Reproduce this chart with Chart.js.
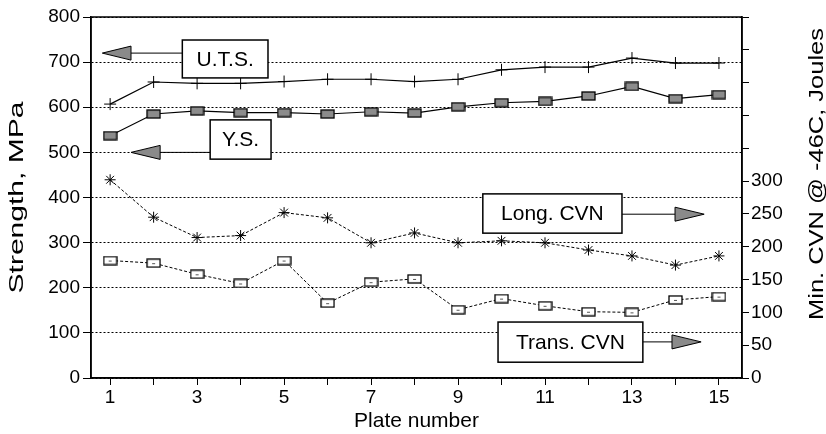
<!DOCTYPE html>
<html>
<head>
<meta charset="utf-8">
<script src="https://cdn.jsdelivr.net/npm/chart.js@4.4.1/dist/chart.umd.min.js"></script>
<style>
  body { margin: 0; background: #fff; }
</style>
</head>
<body>
<canvas id="plateChart" width="826" height="434"></canvas>
<script>
// values
const plates = [1, 2, 3, 4, 5, 6, 7, 8, 9, 10, 11, 12, 13, 14, 15];
const uts = [607, 656, 653, 653, 657, 662, 662, 657, 662, 683, 689, 689, 709, 698, 698];        // MPa
const ys = [537, 585, 592, 588, 588, 585, 590, 587, 601, 610, 613, 625, 646, 619, 628];         // MPa
const longCvn = [302, 245, 214, 217, 252, 244, 206, 221, 206, 209, 206, 195, 186, 172, 186];    // J
const transCvn = [179, 175, 158, 144, 179, 114, 146, 151, 104, 121, 110, 101, 100, 119, 124];   // J

const strengthTicks = [0, 100, 200, 300, 400, 500, 600, 700, 800];
const cvnLabelMax = 300;

// callout boxes, placed in plate / MPa units
const callouts = [
    { text: 'U.T.S.', x0: 2.66, x1: 4.63, y0: 749, y1: 665, arrowY: 720, base: 1.48, tip: 0.82 },
    { text: 'Y.S.', x0: 3.30, x1: 4.70, y0: 572, y1: 485, arrowY: 500, base: 2.15, tip: 1.48 },
    { text: 'Long. CVN', x0: 9.57, x1: 12.77, y0: 408, y1: 321, arrowY: 363, base: 13.99, tip: 14.66 },
    { text: 'Trans. CVN', x0: 9.92, x1: 13.25, y0: 124, y1: 35, arrowY: 80, base: 13.92, tip: 14.59 }
];

const FONT = '"Liberation Sans", Arial, Helvetica, sans-serif';
Chart.defaults.font.family = FONT;
Chart.defaults.color = '#000';

function boxMarker(fill, dash) {
    const c = document.createElement('canvas');
    c.width = 15;
    c.height = 10;
    const g = c.getContext('2d');
    g.fillStyle = fill;
    g.fillRect(1, 1, 13, 8);
    g.strokeStyle = '#000';
    g.lineWidth = 1.3;
    g.strokeRect(1, 1, 13, 8);
    if (dash) {
        // little tick inside the open squares
        g.strokeStyle = '#555';
        g.lineWidth = 1;
        g.beginPath();
        g.moveTo(6, 5.5);
        g.lineTo(9, 5.5);
        g.stroke();
    }
    return c;
}

const toPoints = arr => arr.map((v, i) => ({ x: plates[i], y: v }));

const calloutPlugin = {
    id: 'callouts',
    afterDatasetsDraw(chart) {
        const { ctx, scales: { x, y } } = chart;
        ctx.save();
        callouts.forEach(c => {
            const left = x.getPixelForValue(c.x0);
            const right = x.getPixelForValue(c.x1);
            const top = y.getPixelForValue(c.y0);
            const bottom = y.getPixelForValue(c.y1);
            const ay = y.getPixelForValue(c.arrowY);
            const base = x.getPixelForValue(c.base);
            const tip = x.getPixelForValue(c.tip);
            const from = tip < left ? left : right;

            ctx.strokeStyle = '#000';
            ctx.lineWidth = 1;
            ctx.beginPath();
            ctx.moveTo(from, ay);
            ctx.lineTo(base, ay);
            ctx.stroke();

            ctx.beginPath();
            ctx.moveTo(tip, ay);
            ctx.lineTo(base, ay - 7);
            ctx.lineTo(base, ay + 7);
            ctx.closePath();
            ctx.fillStyle = '#8a8a8a';
            ctx.fill();
            ctx.stroke();

            ctx.fillStyle = '#fff';
            ctx.fillRect(left, top, right - left, bottom - top);
            ctx.lineWidth = 1.5;
            ctx.strokeRect(left, top, right - left, bottom - top);

            ctx.fillStyle = '#000';
            ctx.font = '21px ' + FONT;
            ctx.textAlign = 'center';
            ctx.textBaseline = 'middle';
            ctx.fillText(c.text, (left + right) / 2, (top + bottom) / 2 + 1);
        });

        // solid frame round the plot
        const a = chart.chartArea;
        ctx.strokeStyle = '#000';
        ctx.lineWidth = 1.5;
        ctx.strokeRect(a.left, a.top, a.right - a.left, a.bottom - a.top);
        ctx.restore();
    },
    afterDraw(chart) {
        // both axis titles read bottom-to-top and are drawn a bit stretched, like the scan
        const { ctx, chartArea } = chart;
        const titles = [
            { text: 'Strength, MPa', cx: 17, cy: (chartArea.top + chartArea.bottom) / 2, len: 192 },
            { text: 'Min. CVN @ -46C, Joules', cx: chart.width - 9, cy: chartArea.top + 157, len: 292 }
        ];
        ctx.save();
        ctx.font = '21px ' + FONT;
        ctx.fillStyle = '#000';
        ctx.textAlign = 'center';
        ctx.textBaseline = 'middle';
        titles.forEach(t => {
            const w = ctx.measureText(t.text).width;
            ctx.save();
            ctx.translate(t.cx, t.cy);
            ctx.rotate(-Math.PI / 2);
            ctx.scale(t.len / w, 1);
            ctx.fillText(t.text, 0, 0);
            ctx.restore();
        });
        ctx.restore();
    }
};

new Chart(document.getElementById('plateChart'), {
    type: 'line',
    data: {
        datasets: [
            {
                label: 'U.T.S.',
                data: toPoints(uts),
                yAxisID: 'y',
                borderColor: '#000',
                borderWidth: 1.2,
                pointStyle: 'cross',
                pointRadius: 6,
                pointBorderColor: '#000',
                pointBorderWidth: 1,
                tension: 0
            },
            {
                label: 'Y.S.',
                data: toPoints(ys),
                yAxisID: 'y',
                borderColor: '#000',
                borderWidth: 1.2,
                pointStyle: boxMarker('#8c8c8c', false),
                tension: 0
            },
            {
                label: 'Long. CVN',
                data: toPoints(longCvn),
                yAxisID: 'y2',
                borderColor: '#000',
                borderWidth: 1,
                borderDash: [3, 2],
                pointStyle: 'star',
                pointRadius: 5.5,
                pointBorderColor: '#000',
                pointBorderWidth: 1,
                tension: 0
            },
            {
                label: 'Trans. CVN',
                data: toPoints(transCvn),
                yAxisID: 'y2',
                borderColor: '#000',
                borderWidth: 1,
                borderDash: [3, 2],
                pointStyle: boxMarker('#fff', true),
                tension: 0
            }
        ]
    },
    options: {
        responsive: false,
        animation: false,
        layout: { padding: { top: 17, left: 0, right: 0, bottom: 0 } },
        plugins: {
            legend: { display: false },
            tooltip: { enabled: false }
        },
        scales: {
            x: {
                type: 'linear',
                min: 0.56,
                max: 15.53,
                afterBuildTicks: scale => { scale.ticks = plates.map(v => ({ value: v })); },
                afterFit: scale => { scale.height = 56; },
                ticks: {
                    autoSkip: false,
                    maxRotation: 0,
                    padding: 1,
                    font: { size: 19 },
                    callback: v => (v % 2 ? v : '')
                },
                grid: { drawOnChartArea: false, color: '#000', tickLength: 7 },
                border: { color: '#000', width: 1.5 },
                title: {
                    display: true,
                    text: 'Plate number',
                    font: { size: 21 },
                    padding: { top: 0, bottom: 0 }
                }
            },
            y: {
                position: 'left',
                min: 0,
                max: 800,
                afterBuildTicks: scale => { scale.ticks = strengthTicks.map(v => ({ value: v })); },
                afterFit: scale => { scale.width = 91; },
                ticks: { padding: 3, font: { size: 19 } },
                grid: { color: '#000', lineWidth: 1, tickLength: 8, tickBorderDash: [] },
                border: { color: '#000', width: 1.5, dash: [2, 2] }
            },
            y2: {
                position: 'right',
                min: 0,
                max: 550,
                afterFit: scale => { scale.width = 84; },
                ticks: {
                    stepSize: 50,
                    padding: 2,
                    font: { size: 19 },
                    callback: v => (v <= cvnLabelMax ? v : '')
                },
                grid: { drawOnChartArea: false, color: '#000', tickLength: 7 },
                border: { color: '#000', width: 1.5 }
            }
        }
    },
    plugins: [calloutPlugin]
});
</script>
</body>
</html>
